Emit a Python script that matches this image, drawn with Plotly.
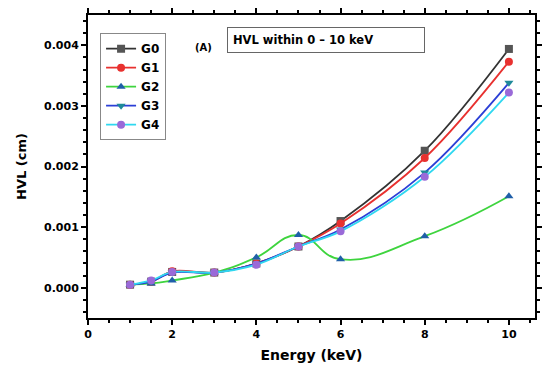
import plotly.graph_objects as go

energy = [1, 1.5, 2, 3, 4, 5, 6, 8, 10]
g0 = [0.00005, 0.00010, 0.00026, 0.00025, 0.00040, 0.00068, 0.00110, 0.00226, 0.00394]
g1 = [0.00005, 0.00010, 0.00027, 0.00025, 0.00040, 0.00068, 0.00106, 0.00214, 0.00373]
g2 = [0.00005, 0.00007, 0.00012, 0.00025, 0.00050, 0.00087, 0.00047, 0.00085, 0.00151]
g3 = [0.00005, 0.00010, 0.00025, 0.00025, 0.00040, 0.00068, 0.00096, 0.00190, 0.00338]
g4 = [0.00005, 0.00012, 0.00026, 0.00025, 0.00038, 0.00068, 0.00093, 0.00183, 0.00322]

series = [
    ("G0", g0, "#333333", "#555555", "square", 1.0),
    ("G1", g1, "#e8312f", "#e8312f", "circle", 1.0),
    ("G2", g2, "#3ed43e", "#1f5fa8", "triangle-up", 1.3),
    ("G3", g3, "#2b3fd6", "#1f8a9a", "triangle-down", 1.0),
    ("G4", g4, "#2fd8f0", "#9a6ad8", "circle", 1.0),
]

FONT = "DejaVu Sans"

fig = go.Figure()
for name, ys, lc, mc, sym, sm in series:
    fig.add_trace(go.Scatter(
        x=energy, y=ys, name=name, mode="lines+markers",
        line=dict(color=lc, width=1.8, shape="spline", smoothing=sm),
        marker=dict(color=mc, symbol=sym, size=8),
    ))

axis_common = dict(
    showline=True, linecolor="black", linewidth=2, mirror="ticks",
    ticks="outside", ticklen=5, tickwidth=1.5, tickcolor="black",
    showgrid=False, zeroline=False,
    tickfont=dict(family=FONT, size=11, color="black", weight="bold"),
    minor=dict(ticks="outside", ticklen=3, tickcolor="black"),
)

fig.update_xaxes(range=[0, 10.62], dtick=2,
                 title=dict(text="<b>Energy (keV)</b>", font=dict(family=FONT, size=14, color="black"), standoff=10),
                 **axis_common)
fig.update_yaxes(range=[-0.0005, 0.0045], dtick=0.001, tickformat=".3f",
                 title=dict(text="<b>HVL (cm)</b>", font=dict(family=FONT, size=13, color="black"), standoff=14),
                 **axis_common)

fig.add_annotation(xref="paper", yref="paper", x=0.236, y=0.917, text="<b>(A)</b>", showarrow=False,
                   font=dict(family=FONT, size=10, color="black"))
fig.add_annotation(xref="paper", yref="paper", x=0.312, y=0.917, xanchor="left", yanchor="middle",
                   text="<b>HVL within 0 – 10 keV</b>",
                   showarrow=False, bordercolor="#666666", borderwidth=1, borderpad=5, width=186, align="left",
                   font=dict(family=FONT, size=11.5, color="black"))

fig.update_layout(
    width=542, height=365,
    margin=dict(l=88, r=0, t=15, b=47),
    paper_bgcolor="white", plot_bgcolor="white",
    showlegend=True,
    legend=dict(x=0.027, y=0.94, xanchor="left", yanchor="top", bordercolor="#888888", borderwidth=1,
                bgcolor="white", font=dict(family=FONT, size=12, color="black", weight="bold"),
                tracegroupgap=0, itemwidth=30),
)

fig.write_html("out.html")
